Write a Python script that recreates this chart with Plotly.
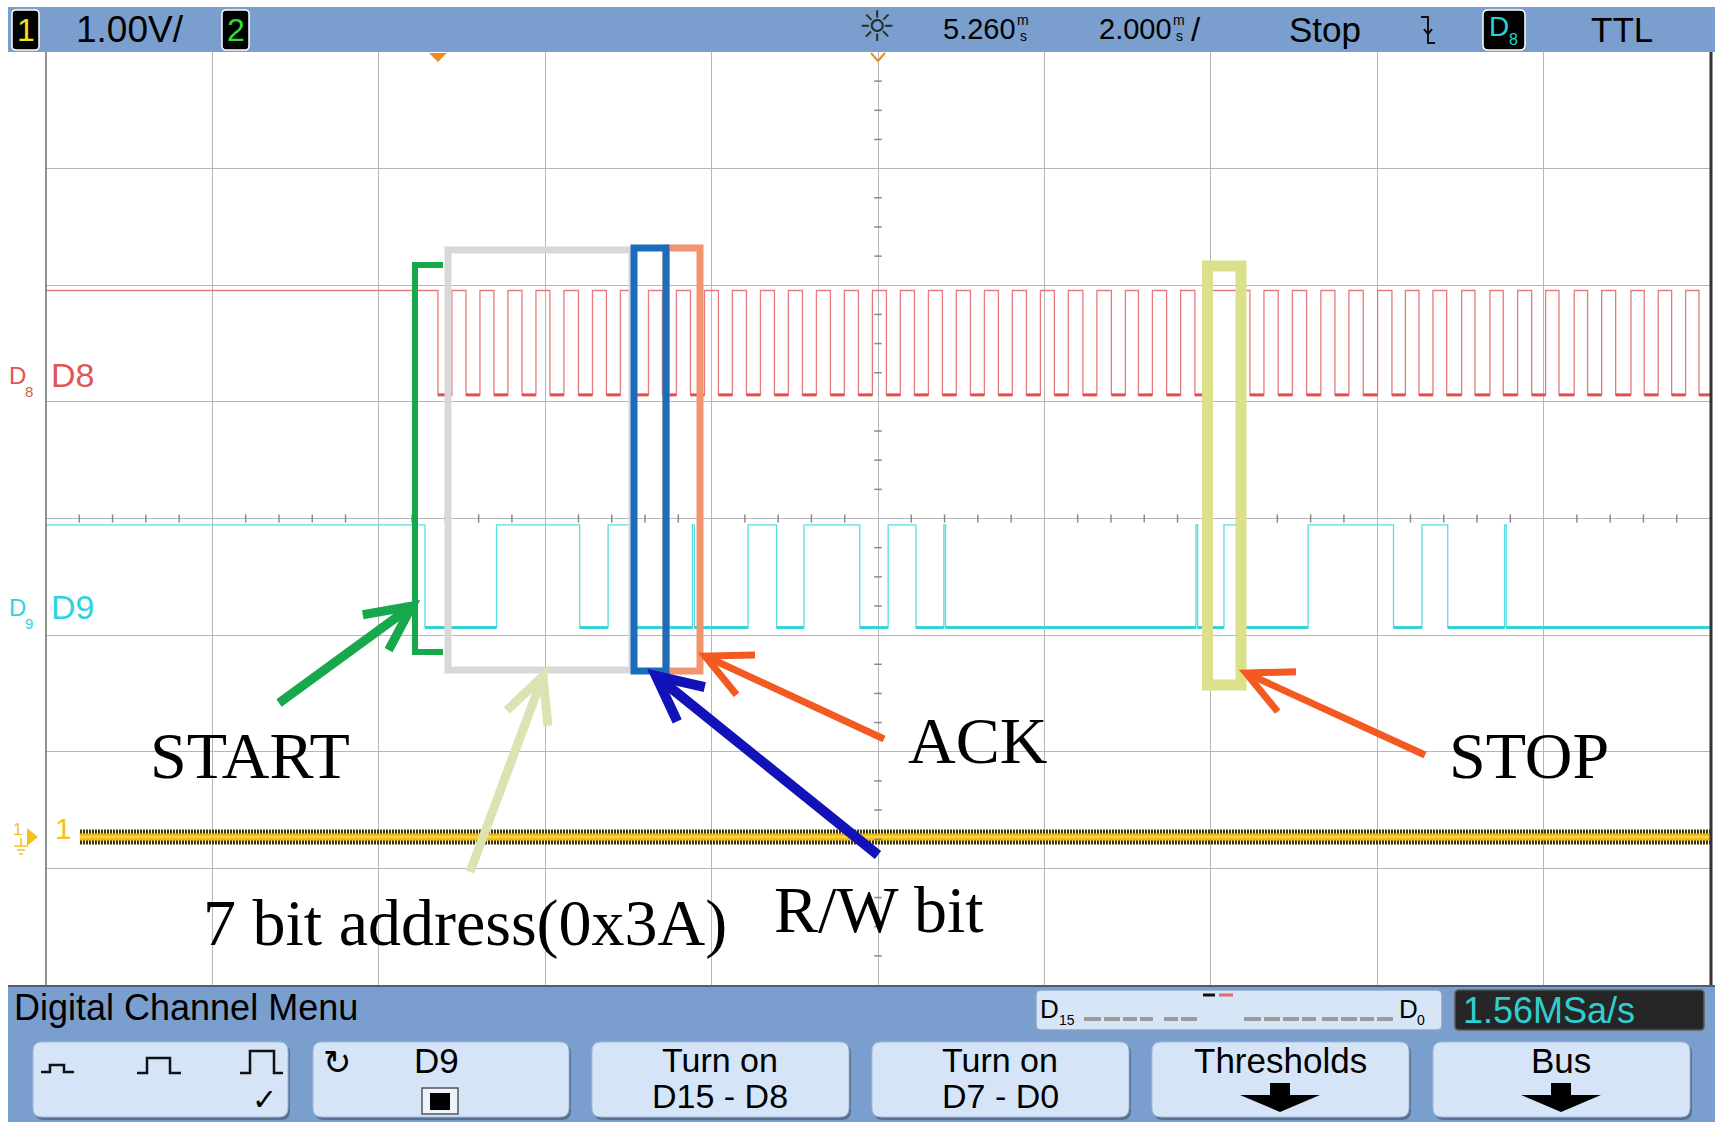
import math
import plotly.graph_objects as go

time_per_div_ms = 2.0
screen_left_ms = -4.711
n_div_x = 10
n_div_y = 8

# D8 (SCL) edge times, ms
scl_fall_ms = [0.000, 0.337, 0.673, 1.010, 1.346, 1.689, 2.025, 2.362, 2.698, 3.035,
               3.371, 3.708, 4.044, 4.381, 4.717, 5.054, 5.390, 5.727, 6.063, 6.400,
               6.736, 7.073, 7.409, 7.752, 8.094, 8.419, 8.758, 9.098,
               9.759, 10.099, 10.441, 10.781, 11.121, 11.466, 11.791, 12.124, 12.464, 12.804,
               13.146, 13.474, 13.818, 14.155, 14.499, 14.828, 15.157]
scl_rise_ms = [0.168, 0.505, 0.841, 1.178, 1.514, 1.857, 2.193, 2.530, 2.866, 3.203,
               3.539, 3.876, 4.212, 4.549, 4.885, 5.222, 5.558, 5.895, 6.231, 6.568,
               6.904, 7.241, 7.577, 7.920, 8.262, 8.587, 8.926, 9.255,
               9.928, 10.270, 10.612, 10.949, 11.294, 11.628, 11.959, 12.304, 12.644, 12.977,
               13.313, 13.657, 13.987, 14.339, 14.667, 14.996]
d8_low_div, d8_high_div = 5.06, 5.955

# D9 (SDA) toggle times, ms (starts high)
sda_edge_ms = [-0.156, 0.704, 1.703, 2.045, 2.375, 3.058, 3.082, 3.728, 4.070, 4.399,
               5.070, 5.411, 5.745, 6.080, 6.100, 9.110, 9.130, 9.447, 9.631, 10.459,
               11.485, 11.827, 12.137, 12.820, 12.840]
d9_low_div, d9_high_div = 3.065, 3.945

# analog channel 1
ch1_level_div = 1.27
ch1_start_ms = -4.303

t_left = screen_left_ms
t_right = screen_left_ms + n_div_x * time_per_div_ms

# ---------------- geometry of the screen (pixels) ----------------
W, H = 1715, 1122
PL, PR, PT, PB = 46, 1710, 52, 985
SANS = "Liberation Sans, Arial, sans-serif"
SERIF = "Liberation Serif, Times New Roman, serif"
BLUE = "#7A9FCE"

shapes, annos = [], []


def X(px):
    return (px - PL) / (PR - PL)


def Y(py):
    return (PB - py) / (PB - PT)


def P(x, y):
    return f"{X(x):.5f},{Y(y):.5f}"


def rect(x0, y0, x1, y1, fill=None, line=None, lw=0):
    shapes.append(dict(type="rect", xref="paper", yref="paper",
                       x0=X(x0), x1=X(x1), y0=Y(y1), y1=Y(y0),
                       fillcolor=fill or "rgba(0,0,0,0)",
                       line=dict(color=line or "rgba(0,0,0,0)", width=lw)))


def poly(pts, color, lw, fill=None, closed=False):
    d = "M " + " L ".join(P(x, y) for x, y in pts) + (" Z" if closed else "")
    shapes.append(dict(type="path", xref="paper", yref="paper", path=d,
                       line=dict(color=color, width=lw),
                       fillcolor=fill or "rgba(0,0,0,0)"))


def rrect(x0, y0, x1, y1, r, fill, line="rgba(0,0,0,0)", lw=0):
    d = (f"M {P(x0 + r, y0)} L {P(x1 - r, y0)} Q {P(x1, y0)} {P(x1, y0 + r)} "
         f"L {P(x1, y1 - r)} Q {P(x1, y1)} {P(x1 - r, y1)} "
         f"L {P(x0 + r, y1)} Q {P(x0, y1)} {P(x0, y1 - r)} "
         f"L {P(x0, y0 + r)} Q {P(x0, y0)} {P(x0 + r, y0)} Z")
    shapes.append(dict(type="path", xref="paper", yref="paper", path=d,
                       line=dict(color=line, width=lw), fillcolor=fill))


def text(s, x, y, size, color="black", family=SANS, xa="center", ya="middle"):
    annos.append(dict(text=s, x=X(x), y=Y(y), xref="paper", yref="paper",
                      showarrow=False, xanchor=xa, yanchor=ya,
                      font=dict(size=size, color=color, family=family)))


def arrow(tail, tip, color, lw, head=50, ang=26):
    (x0, y0), (x1, y1) = tail, tip
    a = math.atan2(y0 - y1, x0 - x1)
    b1 = (x1 + head * math.cos(a + math.radians(ang)), y1 + head * math.sin(a + math.radians(ang)))
    b2 = (x1 + head * math.cos(a - math.radians(ang)), y1 + head * math.sin(a - math.radians(ang)))
    poly([tail, tip], color, lw)
    poly([b1, tip, b2], color, lw)


# ---------------- traces ----------------
fig = go.Figure()

# D8 clock
ev8 = sorted([(t, d8_low_div) for t in scl_fall_ms] + [(t, d8_high_div) for t in scl_rise_ms])
x8 = [t_left] + [e[0] for e in ev8] + [t_right]
y8 = [d8_high_div] + [e[1] for e in ev8] + [ev8[-1][1]]
lx8, ly8 = [], []
rs = sorted(scl_rise_ms)
for f in scl_fall_ms:
    r = next((r for r in rs if r > f), t_right)
    lx8 += [f, r, None]
    ly8 += [d8_low_div, d8_low_div, None]

fig.add_trace(go.Scatter(x=x8, y=y8, mode="lines", line=dict(color="#E77B7B", width=1.3, shape="hv"),
                         hoverinfo="skip", showlegend=False))
fig.add_trace(go.Scatter(x=lx8, y=ly8, mode="lines", line=dict(color="#E04E4E", width=3),
                         hoverinfo="skip", showlegend=False))

# D9 data
x9, y9, lvl = [t_left], [d9_high_div], 1
for t in sda_edge_ms:
    lvl = 1 - lvl
    x9.append(t)
    y9.append(d9_high_div if lvl else d9_low_div)
x9.append(t_right)
y9.append(y9[-1])
lx9, ly9 = [], []
for i in range(1, len(x9)):
    if y9[i - 1] == d9_low_div:
        lx9 += [x9[i - 1], x9[i], None]
        ly9 += [d9_low_div, d9_low_div, None]

fig.add_trace(go.Scatter(x=x9, y=y9, mode="lines", line=dict(color="#58DDE6", width=1.3, shape="hv"),
                         hoverinfo="skip", showlegend=False))
fig.add_trace(go.Scatter(x=lx9, y=ly9, mode="lines", line=dict(color="#36D2DC", width=3),
                         hoverinfo="skip", showlegend=False))

# channel 1 (noisy band)
cx = [ch1_start_ms, t_right]
cy = [ch1_level_div, ch1_level_div]
fig.add_trace(go.Scatter(x=cx, y=cy, mode="lines", line=dict(color="#3B3200", width=15, dash="2px,1px"),
                         hoverinfo="skip", showlegend=False))
fig.add_trace(go.Scatter(x=cx, y=cy, mode="lines", line=dict(color="#EDBB16", width=7),
                         hoverinfo="skip", showlegend=False))
fig.add_trace(go.Scatter(x=cx, y=cy, mode="lines", line=dict(color="#FFD63A", width=2.5),
                         hoverinfo="skip", showlegend=False))

# ---------------- graticule minor ticks ----------------
xc = t_left + n_div_x / 2 * time_per_div_ms
yc = n_div_y / 2
for k in range(n_div_y * 4 + 1):
    if k % 4:
        shapes.append(dict(type="line", xref="x", yref="y", x0=xc - 0.045, x1=xc + 0.045,
                           y0=k * 0.25, y1=k * 0.25, line=dict(color="#8A8A8A", width=1.5)))
for k in range(n_div_x * 5 + 1):
    if k % 5:
        xv = t_left + k * time_per_div_ms / 5
        shapes.append(dict(type="line", xref="x", yref="y", x0=xv, x1=xv,
                           y0=yc - 0.035, y1=yc + 0.035, line=dict(color="#8A8A8A", width=1.5)))

# frame
poly([(PL, PT), (PL, PB)], "#6E6E6E", 1.5)
poly([(PR + 1, PT), (PR + 1, PB)], "#333333", 3)

# ---------------- overlay boxes & arrows ----------------
poly([(448, 250), (632, 250), (632, 670), (448, 670)], "#D8D8D8", 7, closed=True)
poly([(666, 248), (700, 248), (700, 671), (666, 671)], "#F2946E", 7, closed=True)
poly([(634, 248), (666, 248), (666, 671), (634, 671)], "#1C6CBC", 7, closed=True)
poly([(443, 265), (415, 265), (415, 652), (443, 652)], "#17A84C", 6)
poly([(1207.5, 266), (1241, 266), (1241, 685), (1207.5, 685)], "#DCE08A", 11, closed=True)

arrow((279, 703), (412, 606), "#17A84C", 9)
arrow((470, 872), (543, 676), "#DCE3B2", 9)
arrow((878, 855), (656, 676), "#1212B8", 10)
arrow((884, 739), (705, 656), "#F25A22", 7)
arrow((1425, 755), (1246, 673), "#F25A22", 7)

text("START", 250, 756, 66, family=SERIF)
text("ACK", 977, 740, 66, family=SERIF)
text("STOP", 1529, 756, 66, family=SERIF)
text("7 bit address(0x3A)", 465, 923, 66, family=SERIF)
text("R/W bit", 879, 909, 66, family=SERIF)

# trigger markers
tx0 = PL + (0 - t_left) / (t_right - t_left) * (PR - PL)
poly([(tx0 - 9, 53), (tx0 + 9, 53), (tx0, 62)], "#F08A1C", 0, fill="#F08A1C", closed=True)
poly([(871, 53), (878, 61), (885, 53)], "#F08A1C", 2)

# ---------------- channel labels at left ----------------
text("D", 17, 375, 24, "#E05555")
text("8", 29, 391, 15, "#E05555")
text("D8", 49, 375, 34, "#E05555", xa="left")
text("D", 17, 607, 24, "#2FD3DE")
text("9", 29, 623, 15, "#2FD3DE")
text("D9", 49, 607, 34, "#2FD3DE", xa="left")
text("1", 17, 829, 17, "#F2C21B")
poly([(27, 828), (27, 846), (38, 837)], "#F2C21B", 0, fill="#F2C21B", closed=True)
poly([(21, 838), (21, 846)], "#F2C21B", 1.5)
poly([(14, 846), (28, 846)], "#F2C21B", 1.5)
poly([(17, 850), (25, 850)], "#F2C21B", 1.5)
poly([(19, 854), (23, 854)], "#F2C21B", 1.5)
text("1", 63, 828, 30, "#F2C21B")

# ---------------- top status bar ----------------
rect(8, 7, 1715, 52, fill=BLUE)
rrect(12, 10, 39, 50, 4, "#000000", "#FFFFFF", 1.5)
text("1", 25.5, 30, 32, "#F3E21A")
text("1.00V/", 74, 29, 37, xa="left")
rrect(222, 10, 249, 50, 4, "#000000", "#FFFFFF", 1.5)
text("2", 235.5, 30, 32, "#33DD33")
text("☼", 877, 27, 42, "#2A2A2A", family="DejaVu Sans")
text("5.260", 941, 29, 29, xa="left")
text("m", 1023, 20, 14)
text("s", 1023, 36, 14)
text("2.000", 1097, 29, 29, xa="left")
text("m", 1179, 20, 14)
text("s", 1179, 36, 14)
text("/", 1196, 29, 33)
text("Stop", 1325, 29, 35)
poly([(1421, 17), (1428, 17), (1428, 43), (1435, 43)], "#111111", 2)
poly([(1424, 29), (1428, 34), (1432, 29)], "#111111", 2)
rrect(1483, 10, 1525, 50, 5, "#000000", "#FFFFFF", 1.5)
text("D", 1499, 27, 28, "#27D3D3")
text("8", 1513, 40, 16, "#27D3D3")
text("TTL", 1622, 29, 35)

# ---------------- bottom menu ----------------
rect(8, 985, 1715, 1122, fill=BLUE)
poly([(8, 986), (1715, 986)], "#4A5D7A", 2)
text("Digital Channel Menu", 12, 1007, 36, xa="left")

rrect(1036, 990, 1442, 1030, 5, "#D6E6F7", "#8EA4C4", 1.5)
text("D", 1049, 1009, 26)
text("15", 1067, 1020, 14)
for a, b in [(1084, 1101), (1104, 1120), (1123, 1137), (1140, 1153), (1164, 1178), (1181, 1197),
             (1244, 1261), (1264, 1280), (1283, 1299), (1302, 1316), (1322, 1338), (1341, 1357),
             (1360, 1374), (1377, 1393)]:
    poly([(a, 1019), (b, 1019)], "#9C9C9C", 4)
poly([(1203, 995), (1215, 995)], "#111111", 3)
poly([(1219, 995), (1233, 995)], "#E86A6A", 3)
text("D", 1408, 1009, 26)
text("0", 1421, 1020, 14)

rrect(1455, 990, 1704, 1030, 4, "#262626", "#5A5A5A", 1.5)
text("1.56MSa/s", 1461, 1010, 36, "#2FCFCF", xa="left")

buttons = [(33, 288), (313, 569), (592, 849), (872, 1129), (1152, 1409), (1433, 1690)]
for x0, x1 in buttons:
    rrect(x0 + 2, 1044, x1 + 2, 1120, 9, "#596F92")
    rrect(x0, 1042, x1, 1117, 9, "#D5E5F7", "#A5BAD6", 1)

# button 1 icons
poly([(41, 1072), (50, 1072), (50, 1065), (64, 1065), (64, 1072), (74, 1072)], "#111111", 2.5)
poly([(137, 1073), (147, 1073), (147, 1058), (170, 1058), (170, 1073), (181, 1073)], "#111111", 2.5)
poly([(240, 1073), (250, 1073), (250, 1051), (274, 1051), (274, 1073), (283, 1073)], "#111111", 2.5)
text("✓", 264, 1099, 30, family="DejaVu Sans")
# button 2
text("↻", 337, 1062, 34, family="DejaVu Sans")
text("D9", 436, 1060, 35)
rect(422, 1088, 458, 1114, fill="#EEF4FB", line="#555555", lw=1.5)
rect(430, 1093, 450, 1110, fill="#000000")
# buttons 3..6
text("Turn on", 720, 1060, 34)
text("D15 - D8", 720, 1096, 34)
text("Turn on", 1000, 1060, 34)
text("D7 - D0", 1000, 1096, 34)
text("Thresholds", 1280, 1060, 35)
text("Bus", 1561, 1060, 35)
for cxp in (1280, 1561):
    rect(cxp - 10, 1083, cxp + 10, 1096, fill="#000000")
    poly([(cxp - 40, 1095), (cxp + 40, 1095), (cxp, 1112)], "#000000", 0, fill="#000000", closed=True)

# ---------------- layout ----------------
fig.update_layout(
    width=W, height=H,
    margin=dict(l=PL, r=W - PR, t=PT, b=H - PB, pad=0, autoexpand=False),
    paper_bgcolor="white", plot_bgcolor="white",
    showlegend=False,
    xaxis=dict(range=[t_left, t_right], tick0=t_left, dtick=time_per_div_ms,
               showgrid=True, gridcolor="#B6B6B6", gridwidth=1, zeroline=False,
               showticklabels=False, ticks="", showline=False, fixedrange=True),
    yaxis=dict(range=[0, n_div_y], tick0=0, dtick=1,
               showgrid=True, gridcolor="#B6B6B6", gridwidth=1, zeroline=False,
               showticklabels=False, ticks="", showline=False, fixedrange=True),
    shapes=shapes, annotations=annos,
)

fig.write_html("out.html", config={"displayModeBar": False},
               post_script="document.body.style.margin='0px';document.body.style.padding='0px';")
